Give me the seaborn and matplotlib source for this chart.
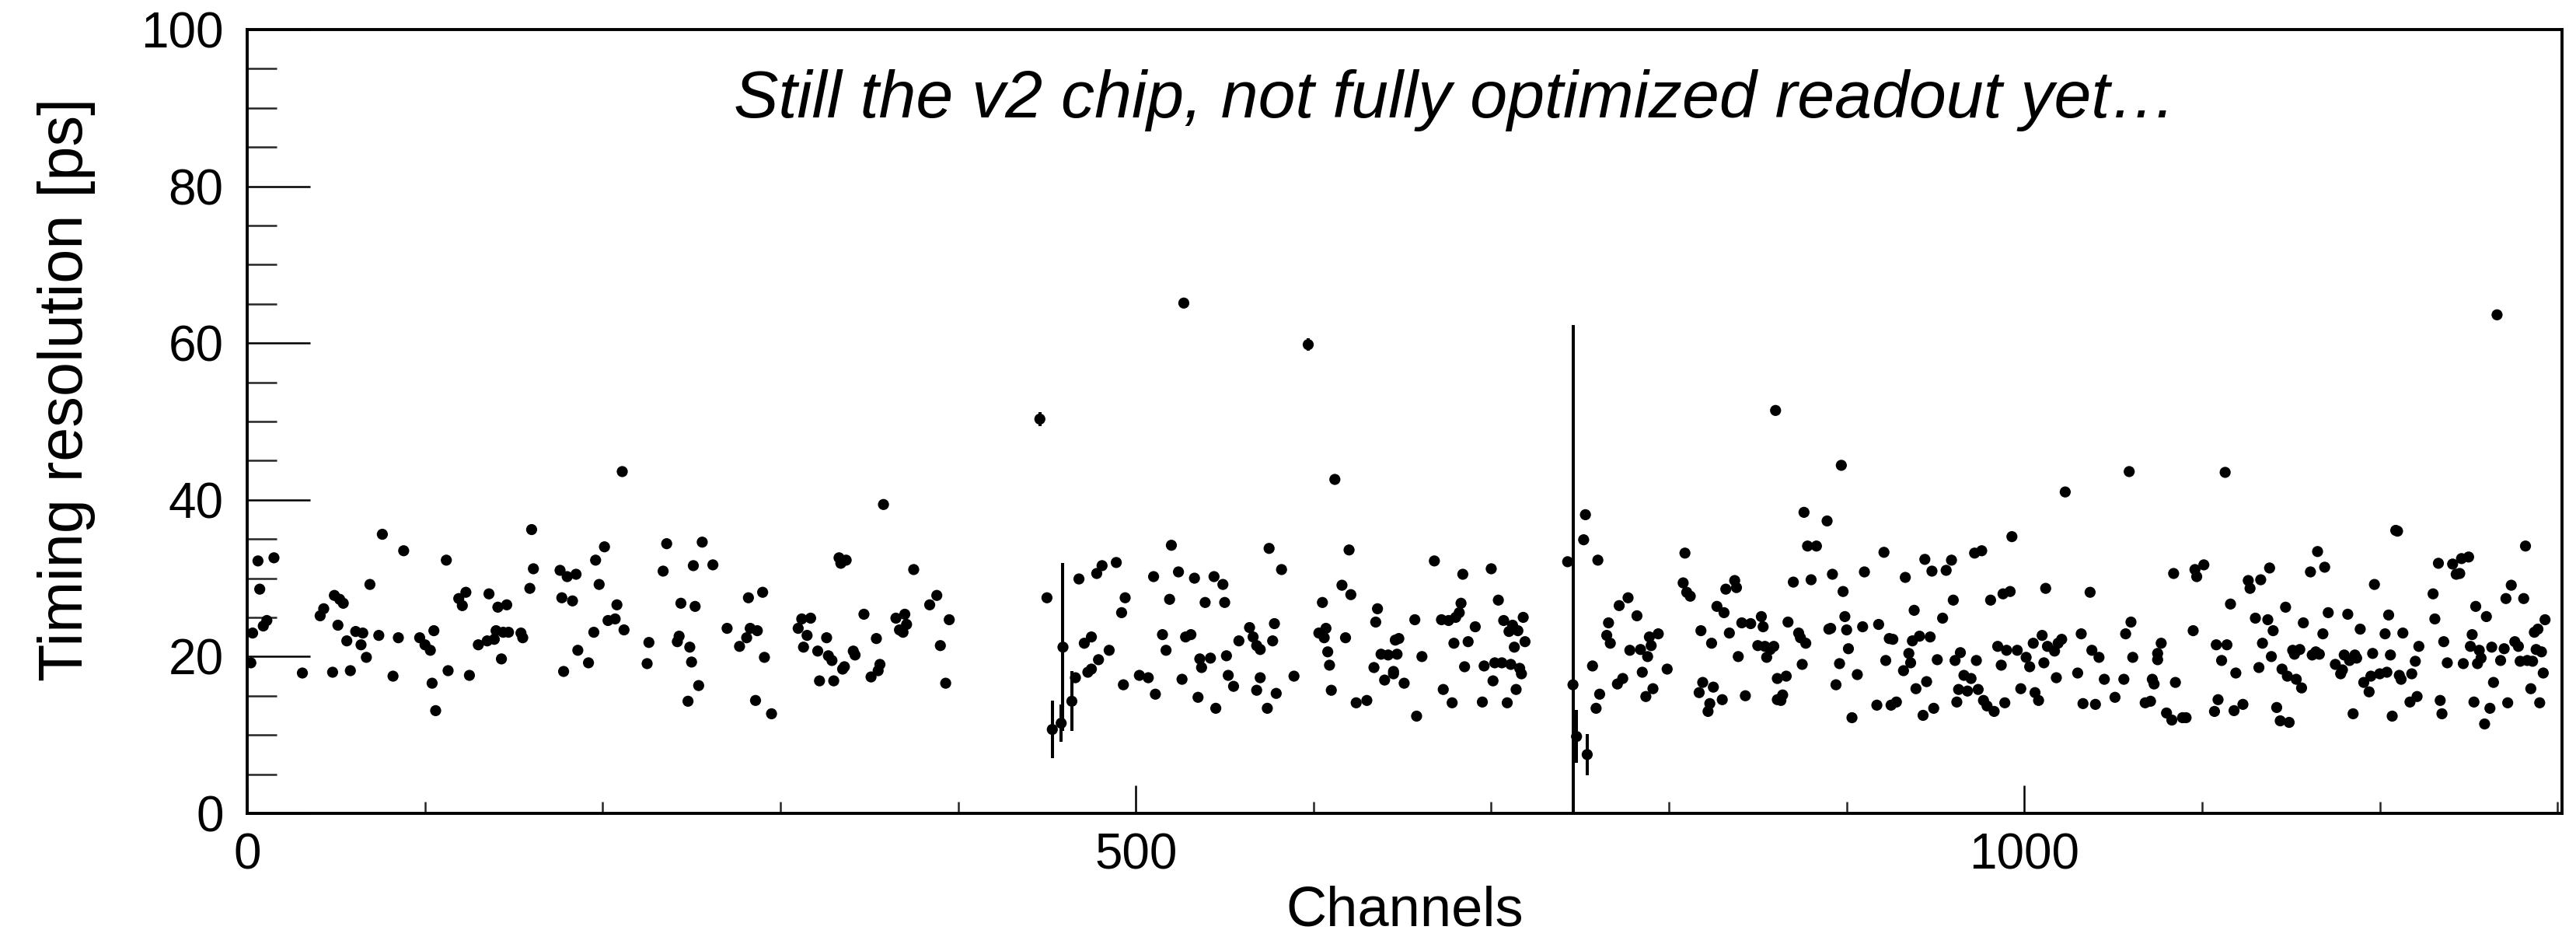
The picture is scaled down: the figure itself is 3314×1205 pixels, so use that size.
import numpy as np
import pandas as pd
import matplotlib
matplotlib.use("Agg")
import matplotlib.pyplot as plt
import seaborn as sns
from matplotlib.ticker import MultipleLocator, FixedLocator

# ---------------- data ----------------
channels_a = [2, 3, 6, 7, 9, 11, 15, 31, 41, 43, 48, 49, 52, 54, 51, 56, 58, 61, 65, 64, 67, 69, 74, 76,
              82, 85, 88, 97, 100, 103, 105, 104, 106, 112, 113, 119, 121, 123, 125, 130, 135, 136, 139,
              140, 141, 143, 144, 146, 147, 154, 155, 159, 160, 161, 176, 177, 178, 180, 183, 185, 186,
              192, 195, 196, 198, 201, 203, 207, 208, 211, 212]
res_a = [19.2, 23.0, 32.2, 28.6, 23.9, 24.6, 32.6, 17.9, 25.2, 26.1, 18.0, 27.8, 27.3, 26.8, 24.0, 22.0,
         18.2, 23.2, 23.0, 21.5, 19.9, 29.2, 22.7, 35.6, 17.5, 22.4, 33.5, 22.4, 21.5, 20.8, 23.3, 16.6,
         13.1, 32.3, 18.2, 27.4, 26.5, 28.2, 17.6, 21.5, 22.0, 28.0, 22.2, 23.3, 26.3, 19.7, 23.1, 26.6,
         23.1, 23.0, 22.4, 28.7, 36.2, 31.2, 31.0, 27.5, 18.1, 30.2, 27.1, 30.5, 20.8, 19.2, 23.1, 32.3,
         29.2, 34.0, 24.6, 24.8, 26.6, 43.6, 23.4]

channels_b = [225, 226, 234, 236, 242, 243, 244, 248, 249, 250, 251, 252, 254, 256, 262, 270, 277, 281,
              282, 283, 287, 286, 290, 291, 295, 310, 312, 317, 313, 315, 321, 322, 326, 327, 329, 330,
              333, 334, 337, 335, 336, 341, 342, 347, 351, 354, 355, 356, 358, 365, 367, 369, 370, 371,
              375, 384, 388, 390, 393, 395]
res_b = [19.1, 21.8, 30.9, 34.4, 21.9, 22.6, 26.8, 14.3, 21.2, 19.3, 31.6, 26.4, 16.3, 34.6, 31.7, 23.6,
         21.3, 22.4, 27.5, 23.6, 23.3, 14.4, 28.2, 19.9, 12.7, 23.6, 24.8, 24.9, 21.2, 22.7, 20.7, 16.9,
         22.4, 20.1, 19.5, 16.9, 32.6, 31.9, 32.3, 18.4, 18.7, 20.7, 20.2, 25.4, 17.4, 22.3, 18.2, 19.0,
         39.4, 24.9, 23.4, 23.1, 25.4, 24.1, 31.1, 26.6, 27.8, 21.4, 16.6, 24.7]

channels_c = [446, 450, 453, 458, 459, 464, 466, 468, 471, 473, 475, 475, 478, 481, 479, 485, 489, 492,
              494, 493, 502, 507, 510, 511, 515, 517, 519, 520, 524, 526, 527, 528, 531, 533, 535, 536,
              537, 539, 542, 544, 545, 549, 550, 551, 552, 555, 558, 564, 566, 568, 570, 568, 570, 574,
              575, 577, 578, 579, 582, 589, 597, 603, 605, 606, 607, 608, 609, 610, 612, 616, 618, 620,
              621, 624, 630, 634, 635, 636, 638, 640, 642, 645, 646]
res_c = [50.3, 27.5, 10.7, 11.5, 21.2, 14.3, 17.3, 29.9, 21.7, 18.0, 22.5, 18.4, 30.6, 31.6, 19.6, 20.8,
         32.0, 25.6, 27.5, 16.4, 17.6, 17.3, 30.2, 15.2, 22.8, 20.8, 27.3, 34.2, 30.8, 17.1, 65.1, 22.5,
         22.8, 30.0, 14.8, 19.7, 18.6, 26.9, 19.8, 30.2, 13.4, 29.2, 26.9, 20.1, 17.6, 16.2, 22.0, 23.7,
         22.5, 21.4, 20.9, 15.7, 17.3, 13.4, 33.8, 22.0, 24.2, 15.3, 31.1, 17.5, 59.8, 23.0, 26.9, 22.4,
         23.6, 20.6, 18.9, 15.7, 42.6, 29.1, 22.4, 33.6, 27.9, 14.1, 14.4, 18.6, 24.4, 26.1, 20.3, 17.0,
         20.2, 17.8, 22.1]

channels_d = [648, 647, 645, 651, 657, 658, 661, 668, 672, 673, 676, 678, 679, 680, 682, 683, 684, 685,
              687, 691, 695, 696, 700, 701, 702, 704, 706, 707, 709, 710, 711, 712, 713, 714, 715, 716,
              717, 718, 719, 743, 746, 748, 752, 753, 754, 757, 760, 761, 759, 765, 766, 767, 771, 772,
              774, 777, 778, 782, 784, 785, 787, 788, 789, 790, 791, 794, 799, 808, 809, 810, 812, 817,
              818, 819, 822, 823, 824, 825, 827, 830, 831, 832, 834, 837, 838, 839, 841, 843, 846, 850,
              852, 853, 854, 855, 857, 859, 860, 861, 861]
res_d = [22.3, 20.3, 18.1, 16.6, 24.7, 12.4, 20.0, 32.2, 24.7, 15.8, 24.6, 14.1, 21.7, 25.0, 25.6, 26.8,
         30.5, 18.7, 21.9, 23.8, 14.2, 18.8, 31.2, 16.9, 19.2, 27.2, 19.2, 24.6, 14.1, 23.2, 19.0, 24.0,
         21.2, 15.8, 23.3, 18.5, 17.8, 25.0, 21.9, 32.1, 16.4, 9.8, 34.9, 38.1, 7.5, 18.8, 32.3, 15.2,
         13.4, 22.7, 24.3, 21.7, 16.5, 26.5, 17.2, 27.5, 20.8, 25.2, 20.9, 18.0, 14.9, 20.0, 22.5, 21.4,
         15.9, 22.9, 18.4, 29.4, 33.2, 28.2, 27.7, 15.4, 23.3, 16.7, 13.0, 14.0, 21.7, 16.1, 26.4, 14.5,
         25.6, 28.6, 23.0, 29.7, 28.8, 20.0, 24.3, 15.0, 24.2, 21.4, 25.1, 23.8, 21.3, 19.9, 20.9, 21.3,
         51.4, 17.2, 14.5]

channels_e = [863, 864, 866, 867, 870, 873, 874, 875, 876, 877, 878, 880, 883, 889, 890, 891, 892, 894,
              896, 897, 898, 899, 900, 901, 903, 906, 909, 910, 917, 918, 921, 922, 924, 925, 926, 928,
              932, 933, 935, 936, 937, 938, 939, 941, 943, 944, 945, 947, 948, 949, 951, 954, 956, 959,
              960, 961, 962, 963, 964, 966, 968, 970, 972, 973, 974, 976, 977, 979, 981, 983, 985, 987,
              988, 989, 990, 992, 993, 996, 998, 1001, 1003, 1005, 1006, 1008, 1010, 1011, 1012, 1013,
              1017, 1018, 1019, 1021, 1023, 1030, 1032, 1033, 1037, 1038, 1040, 1042, 1045, 1051, 1056,
              1057, 1059, 1060, 1061, 1068, 1071, 1072, 1073, 1075, 1075, 1077]
res_e = [14.4, 15.1, 17.5, 24.4, 29.5, 23.0, 22.4, 19.0, 38.4, 21.7, 34.1, 29.8, 34.1, 37.3, 23.5, 23.6,
         30.5, 16.4, 19.1, 44.4, 28.3, 25.1, 23.4, 21.0, 12.2, 17.7, 23.8, 30.8, 13.8, 24.1, 33.3, 19.5,
         22.3, 13.8, 22.2, 14.2, 18.2, 30.1, 20.4, 19.2, 22.0, 25.9, 15.9, 22.6, 12.5, 32.4, 16.8, 22.5,
         30.9, 13.4, 19.6, 24.9, 31.0, 32.3, 27.2, 19.5, 14.2, 15.8, 20.5, 17.6, 15.6, 17.2, 33.2, 19.5,
         15.8, 33.5, 14.4, 13.7, 27.2, 13.0, 21.3, 18.9, 28.0, 14.1, 20.8, 28.3, 35.3, 20.8, 15.9, 19.9,
         18.7, 21.7, 15.4, 14.4, 22.7, 19.2, 28.7, 21.3, 20.7, 17.3, 21.7, 22.2, 41.0, 17.9, 22.9, 14.0,
         28.2, 20.8, 13.9, 19.9, 17.1, 14.8, 17.1, 22.9, 43.6, 24.4, 19.9, 14.1, 14.3, 17.1, 16.5, 19.6,
         20.4, 21.7]

channels_f = [1080, 1083, 1084, 1085, 1089, 1091, 1095, 1096, 1097, 1101, 1107, 1108, 1109, 1111, 1113,
              1114, 1116, 1118, 1119, 1123, 1126, 1127, 1130, 1132, 1133, 1134, 1137, 1138, 1139, 1140,
              1142, 1144, 1145, 1147, 1148, 1149, 1151, 1152, 1153, 1155, 1156, 1157, 1161, 1162, 1164,
              1165, 1166, 1168, 1169, 1171, 1175, 1178, 1179, 1180, 1182, 1183, 1185, 1186, 1187, 1189,
              1191, 1194, 1195, 1196, 1197, 1200, 1203, 1204, 1205, 1206, 1207, 1209, 1210, 1211, 1212,
              1213, 1217, 1218, 1220, 1221, 1222, 1230, 1231, 1233, 1234, 1235, 1236, 1238, 1241, 1243,
              1245, 1246, 1247, 1250, 1251, 1252, 1253, 1254, 1255, 1256, 1257, 1259, 1260, 1262, 1263,
              1264, 1266, 1268, 1270, 1271, 1272, 1274, 1276, 1278, 1279, 1281, 1282, 1283, 1285, 1286,
              1287, 1288, 1289, 1290, 1291, 1292, 1293]
res_f = [12.8, 11.9, 30.6, 16.7, 12.2, 12.2, 23.3, 31.1, 30.2, 31.7, 13.0, 21.5, 14.5, 19.5, 43.5, 21.5,
         26.7, 13.1, 17.9, 13.9, 29.7, 28.7, 24.9, 18.6, 29.8, 21.7, 24.7, 31.3, 20.0, 23.3, 13.5, 11.8,
         18.4, 26.3, 17.5, 11.6, 20.8, 20.3, 17.1, 20.9, 16.0, 24.3, 30.8, 20.2, 20.6, 33.4, 20.3, 22.9,
         31.4, 25.6, 19.0, 17.8, 18.3, 20.2, 25.4, 19.5, 12.7, 20.2, 19.8, 23.5, 16.7, 15.5, 17.5, 20.4,
         29.2, 17.8, 22.9, 18.0, 25.3, 20.2, 12.4, 36.1, 36.0, 17.6, 17.1, 23.0, 14.2, 17.8, 19.4, 14.9,
         21.3, 28.0, 24.8, 31.9, 14.4, 12.7, 21.9, 19.2, 31.8, 30.5, 30.6, 32.5, 19.1, 32.7, 21.3, 22.8,
         14.2, 26.4, 19.1, 20.8, 19.8, 11.4, 25.1, 13.4, 21.2, 16.7, 63.6, 19.5, 21.0, 27.4, 14.1, 29.1,
         21.9, 21.3, 19.4, 27.4, 34.1, 19.5, 15.9, 19.4, 23.1, 20.9, 23.5, 14.1, 20.6, 17.9, 24.7]

# visible error bars
err_channels = [446, 453, 458, 459, 464, 527, 597, 746, 748, 754, 1282]
err_values = [50.3, 10.7, 11.5, 21.2, 14.3, 65.1, 59.8, 16.4, 9.8, 7.5, 34.1]
err_sizes = [0.9, 3.7, 2.4, 10.7, 3.8, 0.4, 0.8, 45.9, 3.4, 2.6, 0.6]

title_text = "Still the v2 chip, not fully optimized readout yet\u2026"
x_label = "Channels"
y_label = "Timing resolution [ps]"
x_major = [0, 500, 1000]
y_major = [0, 20, 40, 60, 80, 100]

# ---------------- figure ----------------
sns.set_theme(style="white")
plt.rcParams["font.family"] = ["Liberation Sans", "DejaVu Sans"]

df = pd.DataFrame({
    "channel": channels_a + channels_b + channels_c + channels_d + channels_e + channels_f,
    "resolution": res_a + res_b + res_c + res_d + res_e + res_f,
})

fig = plt.figure(figsize=(33.14, 12.05), dpi=100)
ax = fig.add_axes([0.0960, 0.132, 0.8986, 0.8365])

ax.errorbar(err_channels, err_values, yerr=err_sizes, fmt="none",
            ecolor="black", elinewidth=2.9, capsize=0, zorder=2)
sns.scatterplot(data=df, x="channel", y="resolution", ax=ax, color="black",
                s=105, edgecolor="none", linewidth=0, legend=False, zorder=3)

ax.set_xlim(0, 1302.6)
ax.set_ylim(0, 100)

ax.xaxis.set_major_locator(FixedLocator(x_major))
ax.xaxis.set_minor_locator(MultipleLocator(100))
ax.yaxis.set_major_locator(FixedLocator(y_major))
ax.yaxis.set_minor_locator(MultipleLocator(5))

ax.tick_params(axis="y", which="major", direction="in", length=58, width=1.8,
               labelsize=46, pad=22, left=True, right=False, colors="black")
ax.tick_params(axis="y", which="minor", direction="in", length=27, width=1.8,
               left=True, right=False)
ax.tick_params(axis="x", which="major", direction="in", length=26, width=1.8,
               labelsize=46, pad=18, bottom=True, top=False, colors="black")
ax.tick_params(axis="x", which="minor", direction="in", length=11, width=1.8,
               bottom=True, top=False)

for sp in ax.spines.values():
    sp.set_visible(True)
    sp.set_color("black")
    sp.set_linewidth(2.8)

ax.set_xlabel(x_label, fontsize=52, color="black")
ax.set_ylabel(y_label, fontsize=57, color="black")
ax.xaxis.set_label_coords(0.5, -0.092)
ax.yaxis.set_label_coords(-0.0655, 0.541)

ax.text(0.522, 0.91, title_text, transform=ax.transAxes, fontsize=62,
        style="italic", ha="center", va="center", color="black")

ax.set_facecolor("white")
fig.patch.set_facecolor("white")
fig.savefig("out.png", dpi=100, facecolor="white")
